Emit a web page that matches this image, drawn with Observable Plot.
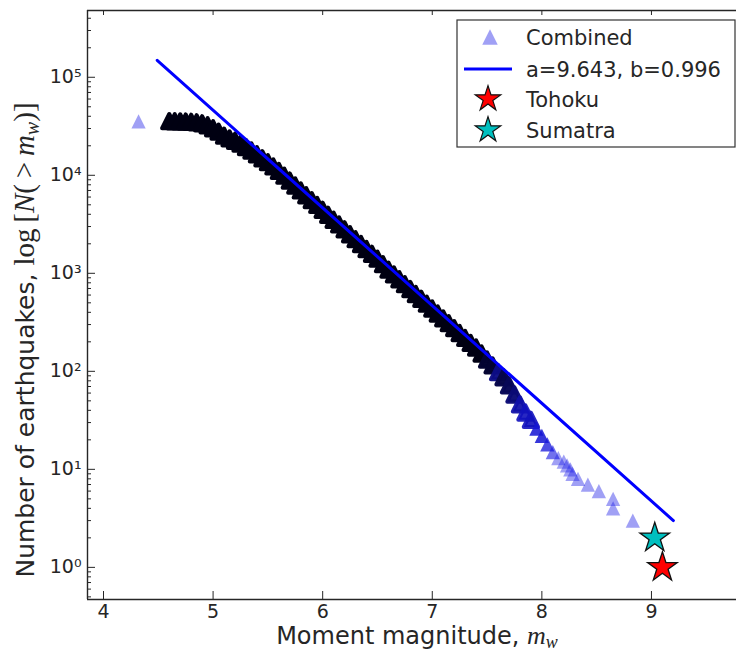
<!DOCTYPE html>
<html><head><meta charset="utf-8">
<script src="https://cdn.jsdelivr.net/npm/d3@7"></script>
<script src="https://cdn.jsdelivr.net/npm/@observablehq/plot@0.6"></script>
<style>
html,body{margin:0;padding:0;background:#fff;overflow:hidden;}
#chart{position:relative;width:736px;height:652px;}
</style></head><body><div id="chart"></div>
<script>
// ---- data ----
const combinedM = [4.32,
  4.60,4.65,4.70,4.75,4.80,4.85,4.90,4.95,5.00,5.05,5.10,5.15,5.20,5.25,5.30,5.35,5.40,5.45,5.50,5.55,
  5.60,5.65,5.70,5.75,5.80,5.85,5.90,5.95,6.00,6.05,6.10,6.15,6.20,6.25,6.30,6.35,6.40,6.45,6.50,6.55,
  6.60,6.65,6.70,6.75,6.80,6.85,6.90,6.95,7.00,7.05,7.10,7.15,7.20,7.25,7.30,7.35,7.40,7.45,7.50,7.55,
  7.60,7.65,7.70,7.75,7.80,7.85,7.90,7.95,8.00,8.05,8.10,8.15,
  8.20,8.23,8.26,8.28,8.33,8.42,8.52,8.65,8.65,8.83];
const combinedN = [35500,
  35700,35600,35500,35300,35100,34700,33900,32400,30200,27900,25400,23800,22500,21000,19400,17900,16400,14900,13600,12300,
  11090,9900,8830,7870,7010,6250,5580,4980,4440,3950,3520,3150,2810,2500,2230,1990,1770,1580,1410,1240,
  1090,975,869,774,690,615,549,490,437,389,347,310,276,246,219,195,175,152,132,115,
  98,87,72,58,46,38,32,26,22,18,15,13,
  12,11,10,9,8,7,6,5,4,3];
const fitM = [4.49, 9.20];
const fitN = [149000, 3.0];
const tohokuM = [9.10], tohokuN = [1];
const sumatraM = [9.03], sumatraN = [2];
const xTicks = [4, 5, 6, 7, 8, 9];
const yTicks = [1, 10, 100, 1000, 10000, 100000];
const legendLabels = ["Combined", "a=9.643, b=0.996", "Tohoku", "Sumatra"];

// events represented by each point = drop in N to the next point (drives overlap darkness)
const combined = combinedM.map((m, i) => ({
  m, N: combinedN[i],
  k: Math.max(1, i < combinedN.length - 1 ? combinedN[i] - combinedN[i + 1] : 1)
}));
const fit = fitM.map((m, i) => ({m, N: fitN[i]}));
const tohoku = tohokuM.map((m, i) => ({m, N: tohokuN[i]}));
const sumatra = sumatraM.map((m, i) => ({m, N: sumatraN[i]}));

const xDomain = [3.854, 9.776];
const yDomain = [0.47, 480000];
const W = 736, H = 652, mL = 87, mT = 10, mB = 53, mR = 0;
const FW = W - mL - mR, FH = H - mT - mB;

const yMinor = [];
for (let k = -1; k <= 5; k++) for (let j = 2; j <= 9; j++) {
  const v = j * Math.pow(10, k);
  if (v > yDomain[0] && v < yDomain[1]) yMinor.push(v);
}

// matplotlib-style "^" marker (width == height)
const mplTriangle = {draw(ctx, size) { const h = Math.sqrt(size / 2); ctx.moveTo(0, -h); ctx.lineTo(h, h); ctx.lineTo(-h, h); ctx.closePath(); }};

const shade = d3.scaleLinear().domain([0, 0.3, 0.65, 1.0, 1.3]).range(["#1c1ce6", "#1a1ae2", "#1414d2", "#0e0e98", "#000012"]).clamp(true);
const opac = d3.scaleLinear().domain([0, 0.3, 0.6, 1.0, 1.3]).range([0.42, 0.62, 0.86, 0.96, 1]).clamp(true);
const edgeOp = d => { const t = Math.log10(d.k); return t >= 0.65 ? opac(t) : 0; };

const sup = {"0":"\u2070","1":"\u00b9","2":"\u00b2","3":"\u00b3","4":"\u2074","5":"\u2075"};
const ink = "#262626";

const plot = Plot.plot({
  width: W, height: H,
  marginLeft: mL, marginRight: mR, marginTop: mT, marginBottom: mB,
  style: {fontFamily: "DejaVu Sans", fontSize: "19px", color: ink, background: "#fff", overflow: "visible"},
  x: {domain: xDomain, ticks: xTicks, tickSize: 0, tickPadding: 5, label: null, tickFormat: d => String(d)},
  y: {type: "log", domain: yDomain, ticks: yTicks, tickSize: 0, tickPadding: 6, label: null,
      tickFormat: d => "10" + sup[String(Math.round(Math.log10(d)))]},
  marks: [
    Plot.dot(combined, {x: "m", y: "N", symbol: mplTriangle, r: 5.7,
      fill: d => shade(Math.log10(d.k)), fillOpacity: d => opac(Math.log10(d.k)),
      stroke: d => shade(Math.log10(d.k)), strokeOpacity: edgeOp, strokeWidth: 4, strokeLinejoin: "round"}),
    Plot.line(fit, {x: "m", y: "N", stroke: "#0000ff", strokeWidth: 3}),
    Plot.dot(sumatra, {x: "m", y: "N", symbol: "star", r: 9.3, fill: "#00bfbf", stroke: "#111", strokeWidth: 1.3}),
    Plot.dot(tohoku, {x: "m", y: "N", symbol: "star", r: 9.3, fill: "#ff0000", stroke: "#111", strokeWidth: 1.3}),
    // ticks (inward)
    Plot.tickX(xTicks, {x: d => d, insetTop: FH - 8, stroke: ink}),
    Plot.tickX(xTicks, {x: d => d, insetBottom: FH - 5, stroke: ink}),
    Plot.tickY(yTicks, {y: d => d, insetRight: FW - 8, stroke: ink}),
    Plot.tickY(yMinor, {y: d => d, insetRight: FW - 4, stroke: ink}),
    // frame (left, top, bottom; right side falls outside the picture)
    Plot.ruleX([xDomain[0]], {stroke: ink, strokeWidth: 1.4}),
    Plot.ruleY([yDomain[0]], {stroke: ink, strokeWidth: 1.4}),
    Plot.ruleY([yDomain[1]], {stroke: ink, strokeWidth: 1.4})
  ]
});
document.getElementById("chart").appendChild(plot);

const svg = d3.select(plot);
const mserif = "Liberation Serif";

// y label
const yl = svg.append("text").attr("transform", "translate(34,340) rotate(-90)")
  .attr("text-anchor", "middle").attr("fill", ink)
  .style("font-family", "DejaVu Sans").style("font-size", "25px");
yl.append("tspan").text("Number of earthquakes, ");
yl.append("tspan").style("font-family", mserif).style("font-size", "29px").text("log\u2009[");
yl.append("tspan").style("font-family", mserif).style("font-size", "29px").style("font-style", "italic").text("N");
yl.append("tspan").style("font-family", mserif).style("font-size", "29px").text("(\u2009>\u2009");
yl.append("tspan").style("font-family", mserif).style("font-size", "29px").style("font-style", "italic").text("m");
yl.append("tspan").style("font-family", mserif).style("font-size", "20px").style("font-style", "italic").attr("dy", 5).text("w");
yl.append("tspan").style("font-family", mserif).style("font-size", "29px").attr("dy", -5).text(")]");

// x label
const xl = svg.append("text").attr("x", 417).attr("y", 644)
  .attr("text-anchor", "middle").attr("fill", ink)
  .style("font-family", "DejaVu Sans").style("font-size", "24px");
xl.append("tspan").text("Moment magnitude, ");
xl.append("tspan").style("font-family", mserif).style("font-size", "26px").style("font-style", "italic").text("m");
xl.append("tspan").style("font-family", mserif).style("font-size", "18px").style("font-style", "italic").attr("dy", 4).text("w");

// legend
const lg = svg.append("g");
lg.append("rect").attr("x", 457).attr("y", 20).attr("width", 278).attr("height", 127)
  .attr("fill", "#fff").attr("stroke", "#333").attr("stroke-width", 1.2);
const rowY = [37, 69, 99, 130];
lg.append("path").attr("transform", `translate(490,${rowY[0]})`)
  .attr("d", d3.symbol(mplTriangle, Math.PI * 38)()).attr("fill", "#1c1ce6").attr("fill-opacity", 0.42);
lg.append("line").attr("x1", 464).attr("x2", 512).attr("y1", rowY[1]).attr("y2", rowY[1])
  .attr("stroke", "#0000ff").attr("stroke-width", 3);
lg.append("path").attr("transform", `translate(488,${rowY[2]})`)
  .attr("d", d3.symbol(d3.symbolStar, Math.PI * 64)()).attr("fill", "#ff0000").attr("stroke", "#111").attr("stroke-width", 1.2);
lg.append("path").attr("transform", `translate(488,${rowY[3]})`)
  .attr("d", d3.symbol(d3.symbolStar, Math.PI * 64)()).attr("fill", "#00bfbf").attr("stroke", "#111").attr("stroke-width", 1.2);
legendLabels.forEach((t, i) => {
  lg.append("text").attr("x", 526).attr("y", rowY[i]).attr("dy", "0.36em").attr("fill", ink)
    .attr("text-anchor", "start")
    .style("font-family", "DejaVu Sans").style("font-size", "21px").text(t);
});
</script></body></html>
